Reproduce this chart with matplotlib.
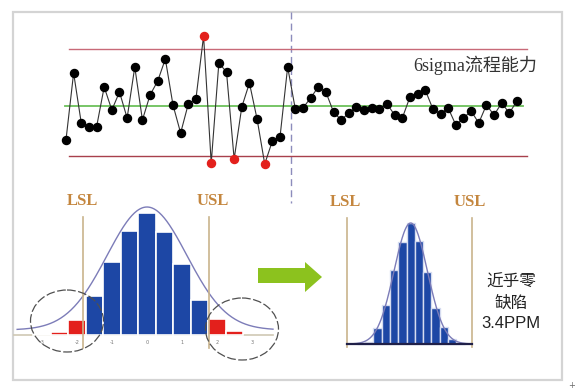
import numpy as np
import matplotlib
matplotlib.use("Agg")
import matplotlib.pyplot as plt
from matplotlib.patches import Ellipse, Polygon, Rectangle

# ---------------- data ----------------
# control chart (individual measurements)
ctrl_values = [6.6, 13.3, 8.3, 7.9, 7.9, 11.9, 9.6, 11.4, 8.8, 13.9,
               8.6, 11.1, 12.5, 14.7, 10.1, 7.3, 10.2, 10.7, 17.0, 4.3,
               14.3, 13.4, 4.7, 9.9, 12.3, 8.7, 4.2, 6.5, 6.9, 13.9,
               9.7, 9.8, 10.8, 11.9, 11.4, 9.4, 8.6, 9.3, 9.9, 9.6,
               9.8, 9.7, 10.2, 9.1, 8.8, 10.9, 11.2, 11.6, 9.7, 9.2,
               9.8, 8.1, 8.8, 9.5, 8.3, 10.1, 9.1, 10.3, 9.3, 10.5]
center_line = 10.0
ucl = 15.7
lcl = 5.0

# before: histogram in sigma units
before_bins = [-3.0, -2.5, -2.0, -1.5, -1.0, -0.5, 0.0, 0.5, 1.0, 1.5, 2.0, 2.5]
before_counts = [1, 3, 15, 39, 73, 104, 122, 103, 71, 35, 16, 4]
before_lsl, before_usl = -1.83, 1.77
before_ticks = [-3, -2, -1, 0, 1, 2, 3]

# after: histogram in bin units
after_bins = [-6, -5, -4, -3, -2, -1, 0, 1, 2, 3, 4, 5, 6]
after_counts = [1.3, 2.3, 16, 39, 74, 102, 121, 103, 72, 36, 17, 4.7, 1.3]
after_lsl, after_usl = -7.67, 7.39

W, H = 575, 390
fig = plt.figure(figsize=(W / 100, H / 100), dpi=100)
fig.patch.set_facecolor("white")


def px_axes(x0, y0, x1, y1):
    ax = fig.add_axes([x0 / W, 1 - y1 / H, (x1 - x0) / W, (y1 - y0) / H])
    ax.set_axis_off()
    ax.patch.set_alpha(0)
    return ax


# base layer
base = px_axes(0, 0, W, H)
base.set_xlim(0, W)
base.set_ylim(H, 0)
base.add_patch(Rectangle((13, 12), 549, 368, fill=False, ec="#d4d4d4", lw=1.6))
base.plot([291, 291], [12, 203], color="#8c8cbc", lw=1.0, ls=(0, (5, 3)))
base.text(572, 385, "+", fontsize=6, color="#666", ha="center", va="center")

# ---------------- control chart ----------------
axc = px_axes(13, 12, 562, 180)
axc.set_xlim(-5.93, 65.89)
axc.set_ylim(2.6, 19.4)
idx = np.arange(1, len(ctrl_values) + 1)
vals = np.array(ctrl_values)
axc.plot([1.39, 61.3], [ucl, ucl], color="#c86a78", lw=1.0)
axc.plot([1.39, 61.3], [lcl, lcl], color="#a8404c", lw=1.0)
axc.plot([0.87, 60.8], [center_line, center_line], color="#6cc05a", lw=1.3)
axc.plot(idx, vals, color="#333333", lw=0.8, zorder=3)
out = (vals > ucl) | (vals < lcl)
axc.plot(idx[~out], vals[~out], "o", color="black", ms=5.8, zorder=4)
axc.plot(idx[out], vals[out], "o", color="#e3201c", ms=5.8, zorder=4)
axc.text(46.4, 14.1, "6sigma流程能力", fontsize=13, color="#333333",
         family=["Liberation Serif", "Noto Sans CJK SC"], ha="left", va="center")

# ---------------- before histogram ----------------
axb = px_axes(13, 190, 290, 380)
axb.set_xlim((13 - 147) / 35, (290 - 147) / 35)
axb.set_ylim(-45, 145)
axb.plot([-3.86, 3.6], [0, 0], color="#cfc8b4", lw=1.2, zorder=1)
bb = np.array(before_bins)
bcol = ["#e3201c" if (b < before_lsl or b > before_usl) else "#1d47a5" for b in bb]
axb.bar(bb, before_counts, width=0.5, color=bcol, edgecolor="white", lw=1.2, zorder=2)
u = np.linspace(-3.71, 3.6, 300)
axb.plot(u, 5 + 123 * np.exp(-u ** 2 / (2 * 1.14 ** 2)), color="#7c7cb8", lw=1.0, zorder=3)
for s in (before_lsl, before_usl):
    axb.plot([s, s], [-13, 118], color="#c9b48c", lw=1.2, zorder=3)
for t in before_ticks:
    axb.text(t, -7, str(t), fontsize=3.5, color="#777", ha="center", va="center")
axb.text(before_lsl, 134, "LSL", fontsize=12, weight="bold", color="#c4863e",
         family="Liberation Serif", ha="center", va="center")
axb.text(before_usl + 0.1, 134, "USL", fontsize=12, weight="bold", color="#c4863e",
         family="Liberation Serif", ha="center", va="center")

# ---------------- after histogram ----------------
axa = px_axes(300, 190, 560, 380)
axa.set_xlim((300 - 410.7) / 8.3, (560 - 410.7) / 8.3)
axa.set_ylim(-36, 154)
ab = np.array(after_bins)
acol = ["#9a2a2a" if abs(b) >= 6 else "#1d47a5" for b in ab]
axa.bar(ab, after_counts, width=1.0, color=acol, edgecolor="#d6dcf0", lw=1.0, zorder=2)
v = np.linspace(after_lsl, after_usl, 300)
axa.plot(v, 121 * np.exp(-v ** 2 / (2 * 2.0 ** 2)), color="#7c7cb8", lw=1.0, zorder=3)
axa.plot([after_lsl, after_usl], [0, 0], color="#202048", lw=1.6, zorder=3)
for s in (after_lsl, after_usl):
    axa.plot([s, s], [-3, 126], color="#c9b48c", lw=1.2, zorder=1)
axa.text(after_lsl - 0.2, 142, "LSL", fontsize=12, weight="bold", color="#c4863e",
         family="Liberation Serif", ha="center", va="center")
axa.text(after_usl - 0.3, 142, "USL", fontsize=12, weight="bold", color="#c4863e",
         family="Liberation Serif", ha="center", va="center")
axa.text(12.07, 62, "近乎零", fontsize=12, color="#222", family="Noto Sans CJK SC",
         ha="center", va="center")
axa.text(12.07, 41, "缺陷", fontsize=12, color="#222", family="Noto Sans CJK SC",
         ha="center", va="center")
axa.text(12.07, 20, "3.4PPM", fontsize=12, color="#222", family="Liberation Sans",
         ha="center", va="center")

# ---------------- overlay: ellipses and arrow ----------------
top = px_axes(0, 0, W, H)
top.set_xlim(0, W)
top.set_ylim(H, 0)
for cx, cy in ((67, 321), (242, 329)):
    top.add_patch(Ellipse((cx, cy), 73, 62, fill=False, ec="#505050", lw=0.9,
                          ls=(0, (7, 2))))
top.add_patch(Polygon([(258, 268), (305, 268), (305, 262), (322, 277),
                       (305, 292), (305, 283), (258, 283)],
                      closed=True, fc="#8cc21e", ec="none"))

fig.savefig("out.png", dpi=100, facecolor="white")
